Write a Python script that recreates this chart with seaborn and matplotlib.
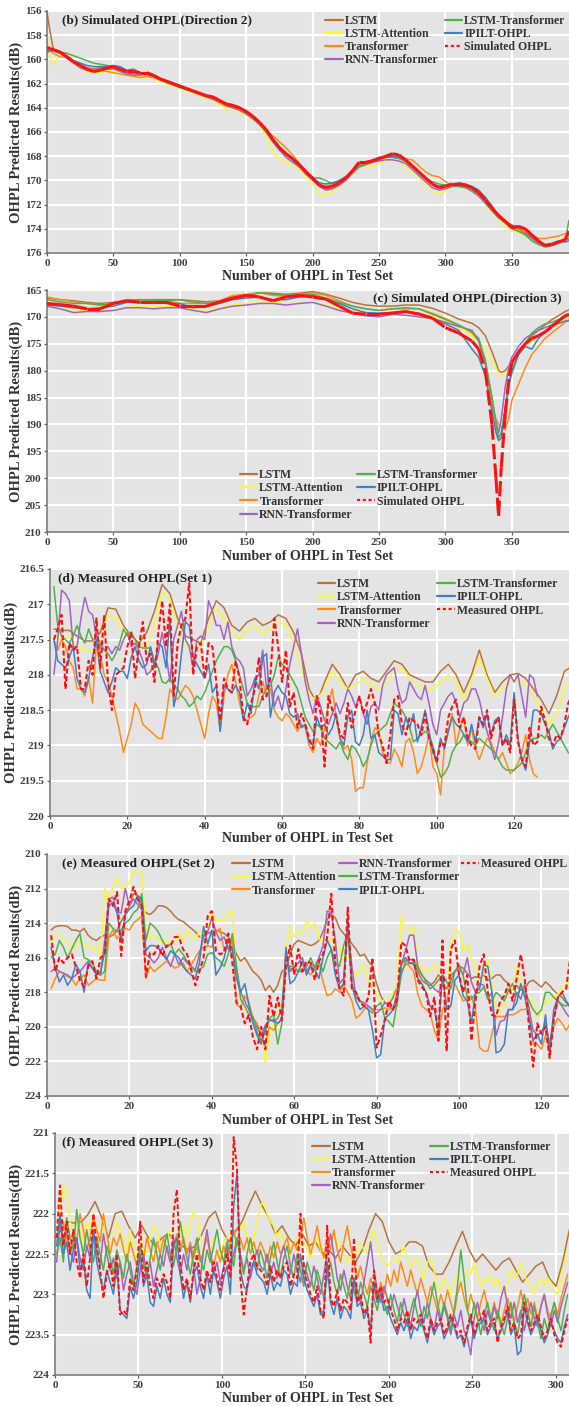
import numpy as np
import matplotlib
matplotlib.use("Agg")
import matplotlib.pyplot as plt
from matplotlib.collections import LineCollection
from matplotlib.lines import Line2D
from matplotlib.ticker import MultipleLocator, FuncFormatter
from matplotlib.font_manager import FontProperties
import seaborn as sns

# ---------------------------------------------------------------------------
# (b) Simulated OHPL, direction 2 -- sample index grid and series
# ---------------------------------------------------------------------------
b_x = np.concatenate(([0, 2], np.arange(5, 391, 5), [393]))
b_sim = [159.0, 159.1, 159.2, 159.4, 159.8, 160.2, 160.5, 160.8, 161.0, 160.9,
         160.7, 160.6, 160.8, 161.0, 161.0, 161.1, 161.1, 161.3, 161.6, 161.8,
         162.0, 162.2, 162.4, 162.6, 162.8, 163.0, 163.1, 163.4, 163.7, 163.8,
         164.0, 164.3, 164.7, 165.2, 165.8, 166.6, 167.3, 167.8, 168.2, 168.7,
         169.3, 169.8, 170.4, 170.6, 170.5, 170.2, 169.8, 169.2, 168.5, 168.5,
         168.4, 168.2, 168.0, 167.8, 167.9, 168.3, 168.8, 169.3, 169.8, 170.3,
         170.6, 170.5, 170.3, 170.3, 170.4, 170.6, 171.0, 171.6, 172.3, 172.9,
         173.4, 173.9, 173.8, 174.0, 174.5, 175.0, 175.4, 175.3, 175.1, 174.9,
         174.2]
b_lstm = [156.1, 157.5, 159.3, 159.4, 159.7, 160.1, 160.4, 160.7, 160.8, 160.7,
          160.6, 160.7, 160.9, 161.1, 161.2, 161.2, 161.2, 161.4, 161.6, 161.8,
          162.0, 162.3, 162.5, 162.7, 162.8, 163.0, 163.2, 163.5, 163.7, 163.9,
          164.1, 164.4, 164.8, 165.3, 166.0, 166.8, 167.4, 167.9, 168.3, 168.8,
          169.4, 169.9, 170.4, 170.5, 170.4, 170.1, 169.7, 169.2, 168.7, 168.6,
          168.4, 168.3, 168.1, 168.0, 168.1, 168.4, 168.9, 169.4, 169.9, 170.3,
          170.5, 170.4, 170.3, 170.4, 170.5, 170.8, 171.2, 171.8, 172.4, 173.0,
          173.5, 173.9, 174.0, 174.3, 174.7, 175.1, 175.3, 175.3, 175.1, 175.0,
          174.8]
b_lstm_att = [158.3, 159.6, 160.4, 159.6, 159.9, 160.3, 160.7, 161.0, 161.1, 161.1,
              160.9, 161.0, 161.2, 161.3, 161.4, 161.5, 161.4, 161.6, 161.8, 162.0,
              162.2, 162.4, 162.6, 162.8, 163.0, 163.2, 163.4, 163.7, 164.2, 164.1,
              164.3, 164.6, 165.0, 165.5, 166.3, 167.7, 168.2, 168.4, 168.7, 169.1,
              169.7, 170.3, 171.1, 171.2, 170.9, 170.5, 170.0, 169.5, 168.9, 168.8,
              168.9, 168.6, 168.4, 168.3, 168.4, 168.8, 169.4, 169.8, 170.3, 170.9,
              171.1, 170.9, 170.5, 170.5, 170.6, 170.9, 171.3, 171.9, 172.6, 173.2,
              173.7, 174.2, 174.3, 174.6, 174.9, 175.2, 175.3, 175.2, 175.0, 174.8,
              174.6]
b_transformer = [159.4, 159.3, 159.5, 159.8, 159.8, 160.2, 160.5, 160.7, 160.9, 160.9,
                 161.0, 161.1, 161.2, 161.3, 161.4, 161.5, 161.4, 161.5, 161.7, 161.9,
                 162.1, 162.3, 162.5, 162.7, 162.9, 163.1, 163.3, 163.6, 163.9, 164.0,
                 164.2, 164.5, 164.9, 165.3, 165.9, 166.3, 166.8, 167.3, 167.9, 168.6,
                 169.2, 169.9, 170.3, 170.5, 170.3, 170.1, 169.7, 169.2, 168.7, 168.6,
                 168.5, 168.3, 168.1, 168.0, 168.1, 168.2, 168.3, 168.8, 169.3, 169.6,
                 169.7, 170.1, 170.4, 170.4, 170.5, 170.7, 171.1, 171.7, 172.3, 172.8,
                 173.3, 173.7, 173.9, 174.2, 174.5, 174.8, 174.8, 174.7, 174.6, 174.4,
                 174.5]
b_rnn_tf = [159.4, 159.3, 159.3, 159.5, 159.9, 160.3, 160.7, 160.9, 161.0, 160.9,
            160.8, 160.8, 161.0, 161.2, 161.3, 161.3, 161.2, 161.4, 161.7, 161.9,
            162.1, 162.3, 162.5, 162.7, 162.9, 163.1, 163.3, 163.5, 163.8, 164.0,
            164.2, 164.5, 164.9, 165.4, 166.0, 166.8, 167.5, 168.1, 168.5, 168.9,
            169.5, 170.0, 170.5, 170.8, 170.7, 170.4, 170.0, 169.4, 168.9, 168.7,
            168.5, 168.4, 168.3, 168.3, 168.4, 168.6, 169.1, 169.6, 170.1, 170.6,
            170.8, 170.7, 170.5, 170.5, 170.6, 170.9, 171.3, 171.9, 172.5, 173.1,
            173.5, 174.0, 174.2, 174.4, 174.8, 175.2, 175.4, 175.3, 175.1, 174.9,
            174.8]
b_lstm_tf = [159.5, 159.2, 159.3, 159.4, 159.5, 159.7, 159.9, 160.1, 160.3, 160.4,
             160.5, 160.6, 160.8, 161.0, 161.0, 161.1, 161.1, 161.3, 161.6, 161.8,
             162.0, 162.2, 162.4, 162.6, 162.8, 163.0, 163.2, 163.4, 163.7, 163.9,
             164.1, 164.4, 164.8, 165.3, 166.0, 166.8, 167.4, 167.9, 168.3, 168.8,
             169.3, 169.8, 169.8, 170.0, 170.3, 170.2, 169.8, 169.2, 168.8, 168.6,
             168.4, 168.2, 168.1, 168.1, 168.2, 168.4, 168.9, 169.3, 169.8, 170.1,
             170.3, 170.4, 170.4, 170.5, 170.5, 170.8, 171.2, 171.8, 172.5, 173.0,
             173.5, 173.9, 174.2, 174.5, 175.0, 175.3, 175.5, 175.4, 175.2, 175.0,
             173.3]
b_ipilt = [159.3, 159.1, 159.2, 159.4, 159.8, 160.1, 160.3, 160.5, 160.6, 160.6,
           160.6, 160.5, 160.6, 160.9, 160.8, 161.1, 161.2, 161.4, 161.6, 161.8,
           162.1, 162.3, 162.5, 162.6, 162.8, 163.0, 163.1, 163.4, 163.6, 163.8,
           164.0, 164.3, 164.8, 165.3, 165.9, 166.6, 167.3, 167.8, 168.3, 168.8,
           169.3, 169.8, 170.2, 170.3, 170.2, 170.0, 169.7, 169.2, 168.6, 168.5,
           168.3, 168.1, 168.1, 168.0, 168.1, 168.4, 168.8, 169.3, 169.8, 170.3,
           170.5, 170.4, 170.3, 170.2, 170.3, 170.5, 170.8, 171.4, 172.1, 172.9,
           173.4, 173.7, 173.9, 174.0, 174.6, 175.1, 175.3, 175.2, 175.0, 175.1,
           175.0]

# ---------------------------------------------------------------------------
# (c) Simulated OHPL, direction 3
# ---------------------------------------------------------------------------
c_x = np.concatenate((np.arange(0, 321, 10),
                      [325, 330, 335, 338, 340, 342, 345, 348, 350, 355,
                       360, 365, 370, 375, 380, 385, 390, 393]))
c_sim = [167.5, 167.7, 168.0, 168.5, 168.5, 167.5, 167.0, 167.3, 167.3, 167.3,
         168.0, 168.0, 168.0, 167.2, 166.5, 166.0, 166.3, 167.0, 166.3, 166.0,
         166.3, 166.7, 168.0, 169.3, 169.5, 169.5, 169.3, 169.0, 169.5, 170.2,
         172.0, 173.0, 174.5,
         176.0, 180.0, 190.0, 200.0, 207.0, 198.0, 188.0, 181.0, 178.5, 176.5,
         175.0, 174.0, 173.5, 172.8, 171.8, 170.8, 169.8, 169.5]
c_lstm = [166.5, 166.8, 167.0, 167.3, 167.5, 167.3, 167.0, 166.8, 166.8, 166.8,
          166.8, 167.0, 167.2, 167.0, 166.3, 166.0, 165.5, 165.6, 165.8, 165.6,
          165.3, 165.8, 166.5, 167.3, 167.8, 168.0, 168.0, 167.8, 167.8, 168.4,
          169.3, 170.4, 171.2,
          172.0, 173.5, 176.5, 178.5, 180.0, 180.3, 180.0, 179.0, 178.3, 176.5,
          175.0, 173.5, 172.5, 171.5, 170.5, 169.8, 169.0, 168.7]
c_lstm_att = [168.0, 168.5, 168.8, 168.8, 168.8, 168.8, 168.3, 168.0, 168.0, 168.0,
              168.3, 168.5, 168.8, 168.3, 167.8, 167.5, 167.3, 167.3, 167.5, 167.5,
              167.3, 167.8, 168.5, 169.0, 169.3, 169.5, 169.3, 169.3, 169.3, 170.0,
              170.8, 172.0, 173.5,
              174.5, 176.0, 178.0, 179.5, 180.5, 181.0, 180.5, 179.5, 178.5, 177.0,
              175.5, 174.5, 173.5, 172.8, 172.0, 171.2, 170.5, 170.2]
c_transformer = [166.3, 166.8, 167.2, 167.5, 167.8, 167.5, 166.8, 166.8, 167.0, 167.0,
                 167.5, 167.5, 167.5, 167.0, 166.0, 165.8, 165.5, 166.0, 166.2, 166.0,
                 165.5, 166.0, 167.0, 168.0, 168.5, 168.8, 168.5, 168.5, 168.5, 169.3,
                 170.3, 171.5, 173.0,
                 174.5, 179.0, 186.5, 189.0, 190.0, 190.5, 191.0, 188.5, 185.5, 182.5,
                 179.5, 177.0, 175.5, 174.0, 173.0, 172.0, 171.0, 170.5]
c_rnn_tf = [168.0, 168.5, 169.2, 169.0, 169.0, 168.8, 168.3, 168.3, 168.5, 168.3,
            168.3, 168.8, 169.2, 168.5, 168.0, 167.8, 167.5, 167.5, 167.8, 167.5,
            167.3, 168.0, 168.8, 169.3, 169.8, 170.0, 169.5, 169.7, 170.0, 170.3,
            171.0, 171.8, 172.5,
            174.5, 178.5, 185.0, 189.5, 191.5, 189.0, 183.0, 179.0, 177.5, 175.5,
            174.0, 173.2, 172.5, 172.0, 171.5, 170.8, 170.0, 169.8]
c_lstm_tf = [166.8, 167.2, 167.5, 167.5, 167.8, 167.5, 167.0, 166.8, 167.0, 167.0,
             166.8, 167.3, 167.5, 167.3, 166.5, 166.2, 165.5, 165.8, 166.0, 165.8,
             165.8, 166.5, 167.3, 168.0, 168.5, 168.8, 168.5, 168.3, 168.5, 169.5,
             170.5, 171.5, 172.8,
             174.0, 178.0, 185.0, 190.0, 192.5, 191.5, 187.0, 182.5, 180.5, 177.0,
             175.0, 173.0, 172.0, 171.3, 171.0, 170.5, 170.0, 169.8]
c_ipilt = [167.8, 168.0, 168.3, 168.5, 168.3, 168.0, 167.3, 167.3, 167.3, 167.5,
           167.5, 168.3, 168.0, 167.5, 166.8, 166.5, 166.3, 166.8, 166.8, 166.3,
           166.0, 166.8, 167.5, 168.5, 169.2, 169.3, 169.2, 169.0, 169.3, 170.3,
           171.3, 172.5, 176.0,
           177.5, 181.0, 187.5, 191.5, 193.0, 192.5, 187.0, 182.0, 180.0, 177.0,
           175.5, 176.0, 174.0, 172.8, 171.8, 171.2, 170.8, 170.7]

# ---------------------------------------------------------------------------
# (d) Measured OHPL, set 1  (samples start at 1; LSTM curves every 2nd sample)
# ---------------------------------------------------------------------------
d_meas = [217.5, 217.35, 217.15, 218.2, 217.55, 217.65, 217.6, 218.2, 218.2, 217.8,
          218.0, 217.2, 217.9, 217.15, 218.1, 218.5, 218.0, 217.95, 217.9, 217.6,
          217.4, 218.05, 217.6, 217.25, 217.8, 217.7, 218.1, 217.4, 216.95, 217.6,
          217.0, 218.3, 217.55, 217.3, 217.2, 216.7, 218.0, 217.6, 217.55, 218.05,
          217.55, 217.6, 218.1, 218.65, 218.05, 218.2, 218.25, 217.8, 218.05, 218.6,
          218.7, 218.4, 218.2, 217.75, 218.35, 218.3, 218.0, 217.2, 217.6, 218.1,
          217.65, 218.45, 218.25, 218.75, 218.55, 218.7, 218.9, 219.05, 218.3, 218.55,
          219.3, 218.3, 218.5, 218.6, 218.85, 218.9, 218.4, 218.75, 218.5, 218.3,
          218.55, 218.4, 218.2, 218.4, 218.85, 219.0, 219.25, 218.85, 218.35, 218.3,
          218.7, 218.85, 218.6, 218.65, 218.7, 218.85, 218.55, 218.9, 219.05, 219.25,
          218.95, 219.0, 218.6, 218.45, 218.35, 218.75, 218.6, 218.9, 219.0, 219.05,
          218.6, 218.7, 218.5, 218.9, 218.7, 218.6, 219.0, 218.9, 219.1, 218.35,
          218.95, 219.2, 219.3, 218.75, 219.0, 218.95, 218.45, 218.65, 218.9, 219.0,
          218.85, 218.9, 218.7, 218.4, 218.3, 218.1]
d_ipilt = [217.5, 217.8, 217.85, 217.9, 217.75, 217.6, 218.05, 218.2, 218.25, 218.05,
           217.75, 217.5, 217.95, 218.1, 218.25, 218.1, 217.9, 217.95, 217.95, 218.05,
           217.75, 217.6, 217.8, 217.9, 217.85, 217.6, 217.9, 217.55, 217.6, 217.9,
           217.2, 218.45, 218.2, 217.7, 217.25, 217.3, 217.75, 217.85, 217.95, 218.05,
           217.85, 218.25, 218.15, 218.8, 218.15, 218.2, 218.25, 218.15, 218.25, 218.65,
           218.4, 218.55, 218.05, 218.2, 217.75, 217.7, 218.6, 218.25, 218.15, 218.25,
           218.3, 218.55, 218.6, 218.55, 218.75, 218.7, 218.95, 219.0, 218.6, 218.75,
           218.7, 218.85, 218.75, 218.55, 218.9, 219.0, 218.6, 218.5, 218.95, 219.0,
           218.85, 218.5, 218.9, 218.85, 219.1, 219.15, 219.2, 219.2, 218.5, 218.55,
           218.85, 218.6, 218.75, 218.55, 218.95, 218.75, 218.5, 218.8, 219.1, 219.2,
           218.9, 219.05, 218.8, 218.6, 218.7, 218.75, 218.85, 218.95, 218.7, 218.95,
           218.6, 218.75, 218.55, 218.85, 218.65, 218.6, 219.0, 218.85, 219.0, 218.25,
           218.9, 219.2, 219.35, 218.95, 218.5, 218.5, 218.55, 218.7, 218.8, 219.05,
           218.95, 218.9, 218.75, 218.6, 218.5, 218.4]
d_lstm_tf = [216.75, 217.3, 217.45, 217.5, 217.55, 217.45, 217.3, 217.45, 217.55, 217.35,
             217.5, 217.5, 217.6, 217.65, 217.7, 217.8, 217.7, 217.55, 217.35, 217.45,
             217.4, 217.5, 217.6, 217.62, 217.62, 217.62, 217.8, 217.9, 218.1, 218.12,
             218.05, 218.15, 218.2, 218.3, 218.35, 218.45, 218.4, 218.3, 218.35, 218.25,
             218.1, 217.95, 217.8, 217.7, 217.6, 217.6, 217.65, 217.8, 218.0, 218.2,
             218.4, 218.45, 218.45, 218.45, 218.3, 218.2, 218.15, 218.0, 217.75, 217.85,
             217.9, 218.0, 218.1, 218.2, 218.4, 218.6, 218.7, 218.8, 218.7, 218.75,
             218.9, 218.95, 219.0, 219.05, 218.95, 219.1, 219.2, 219.0, 219.05, 219.15,
             219.3, 219.2, 219.0, 218.85, 218.8, 218.75, 218.7, 218.55, 218.4, 218.45,
             218.5, 218.6, 218.75, 218.95, 218.9, 218.85, 218.8, 218.85, 219.0, 219.25,
             219.45, 219.4, 219.3, 219.1, 219.0, 218.95, 218.85, 218.9, 218.95, 219.0,
             218.9, 218.95, 219.0, 219.05, 219.1, 219.2, 219.3, 219.35, 219.35, 219.35,
             219.3, 219.25, 219.1, 218.95, 218.9, 218.9, 218.85, 218.9, 218.8, 218.7,
             218.8, 218.9, 219.0, 219.1, 219.15, 219.1]
d_transformer = [217.5, 217.65, 217.5, 217.6, 217.8, 217.9, 218.2, 218.2, 218.3, 218.05,
                 218.4, 217.55, 217.7, 218.0, 218.1, 218.3, 218.55, 218.8, 219.1, 218.9,
                 218.7, 218.4, 218.5, 218.7, 218.75, 218.8, 218.85, 218.9, 218.9, 218.6,
                 218.2, 218.3, 218.35, 218.25, 218.15, 218.2, 218.3, 218.5, 218.7, 218.9,
                 218.55, 218.3, 218.4, 218.8, 218.3, 218.0, 217.85, 218.1, 218.4, 218.6,
                 218.65, 218.6, 218.55, 218.3, 218.1, 218.3, 218.2, 218.5, 218.6, 218.65,
                 218.55, 218.6, 218.7, 218.8, 218.7, 218.75, 219.0, 219.1, 218.9, 219.0,
                 218.75, 218.4, 218.2, 218.6, 218.9, 219.05, 219.0, 219.2, 219.65, 219.6,
                 219.6, 219.25, 218.95, 218.75, 218.8, 219.1, 219.25, 219.25, 219.05, 219.15,
                 219.3, 218.95, 218.9, 219.1, 219.4, 219.3, 219.1, 218.85, 219.3, 219.4,
                 219.7, 219.0, 218.8, 218.55, 219.0, 218.75, 218.6, 219.0, 218.75, 219.05,
                 219.2, 219.05, 218.9, 218.95, 219.1, 219.2, 219.1, 219.25, 219.4, 219.35,
                 219.25, 219.1, 218.85, 219.2, 219.4, 219.45]
d_rnn_tf = [218.0, 217.5, 216.8, 216.85, 216.95, 217.6, 217.6, 217.2, 216.9, 217.1,
            217.15, 217.45, 217.55, 217.65, 217.6, 217.7, 217.6, 217.65, 217.5, 217.4,
            217.6, 217.55, 217.65, 217.8, 218.0, 217.95, 217.85, 217.7, 217.4, 217.7,
            218.1, 217.5, 217.3, 217.1, 217.5, 217.6, 217.9, 217.5, 217.45, 217.5,
            216.95, 217.1, 217.3, 217.3, 217.5, 217.25, 217.6, 217.75, 217.8, 217.9,
            218.3, 218.2, 218.05, 218.0, 217.65, 218.2, 218.05, 218.45, 218.3, 218.5,
            218.2, 217.85, 217.6, 217.35, 217.7, 218.1, 218.35, 218.55, 218.3, 218.45,
            218.65, 218.7, 218.55, 218.4, 218.55, 218.4, 218.2, 218.3, 218.45, 218.3,
            218.55, 218.7, 218.45, 218.4, 218.5, 218.15, 218.0, 217.95, 217.9, 218.2,
            218.4, 218.35, 218.1, 218.2, 218.3, 218.35, 218.15, 218.4, 218.7, 218.85,
            218.5, 218.4, 218.3, 218.25, 218.4, 218.6, 218.4, 218.35, 218.2, 218.2,
            218.35, 218.6, 218.8, 219.0, 219.2, 218.95, 218.6, 218.2, 218.0, 218.1,
            218.0, 218.3, 218.6, 218.0, 218.05, 218.3]
d_lstm = [217.35, 217.37, 217.37, 217.45, 217.52, 217.52, 217.4, 217.05, 217.07, 217.3,
          217.45, 217.55, 217.4, 217.1, 216.72, 216.85, 217.2, 217.45, 217.5, 217.55,
          217.2, 216.95, 217.05, 217.3, 217.38, 217.25, 217.2, 217.3, 217.25, 217.15,
          217.2, 217.4, 217.7, 218.2, 218.4, 218.1, 217.85, 218.0, 218.2, 218.0,
          217.95, 218.05, 218.1, 217.95, 217.8, 217.85, 218.0, 218.05, 218.1, 218.1,
          217.95, 217.85, 218.0, 218.25, 218.0, 217.65, 218.0, 218.25, 218.1, 218.0,
          217.98, 218.05, 218.2, 218.35, 218.55, 218.3, 217.95, 217.88, 218.2]
d_lstm_att = [217.45, 217.5, 217.45, 217.6, 217.65, 217.65, 217.55, 217.15, 217.2, 217.4,
              217.5, 217.6, 217.6, 217.3, 216.82, 216.95, 217.3, 217.6, 217.65, 217.6,
              217.3, 217.05, 217.2, 217.4, 217.5, 217.35, 217.3, 217.42, 217.35, 217.25,
              217.3, 217.55, 217.9, 218.3, 218.35, 218.2, 217.95, 218.1, 218.2, 218.15,
              218.05, 218.15, 218.2, 218.1, 217.95, 217.9, 218.05, 218.15, 218.2, 218.2,
              218.1, 218.0, 218.1, 218.35, 218.1, 217.75, 218.05, 218.3, 218.2, 218.1,
              218.08, 218.15, 218.3, 218.5, 218.7, 218.55, 218.2, 218.05, 218.2]

# ---------------------------------------------------------------------------
# (e) Measured OHPL, set 2  (samples 1..127)
# ---------------------------------------------------------------------------
e_meas = [214.7, 216.8, 216.0, 216.3, 216.0, 215.8, 216.5, 217.3, 217.7, 216.5,
          216.2, 217.2, 216.0, 215.8, 212.6, 213.0, 212.2, 215.9, 213.3, 212.7,
          211.9, 212.6, 213.0, 217.1, 215.7, 215.8, 215.3, 215.9, 215.3, 215.3,
          214.8, 214.8, 215.5, 215.8, 216.7, 217.6, 216.8, 216.0, 213.6, 213.3,
          215.6, 215.8, 215.7, 214.6, 216.3, 218.6, 218.8, 219.8, 219.3, 220.6,
          221.3, 220.0, 221.3, 218.2, 219.4, 218.3, 219.6, 216.5, 215.3, 217.0,
          215.5, 216.8, 216.2, 216.3, 217.3, 216.2, 215.8, 214.8, 212.3, 216.5,
          217.8, 218.2, 213.1, 217.8, 218.0, 218.6, 218.8, 218.3, 216.0, 221.2,
          220.5, 219.6, 218.5, 219.0, 218.3, 215.1, 215.3, 216.2, 216.1, 217.3,
          217.7, 218.0, 219.4, 218.3, 220.8, 215.0, 221.4, 215.5, 215.0, 217.0,
          218.0, 217.0, 220.8, 218.5, 216.5, 215.8, 218.0, 219.3, 219.4, 218.5,
          218.2, 217.5, 218.5, 217.2, 215.8, 217.3, 220.0, 222.3, 219.8, 220.4,
          220.0, 221.8, 219.6, 218.3, 218.0, 217.8, 216.0]
e_ipilt = [215.4, 216.6, 217.4, 217.0, 217.6, 217.2, 216.4, 216.8, 218.0, 216.3,
           216.6, 217.0, 216.8, 215.7, 213.0, 212.8, 213.4, 215.0, 213.5, 213.2,
           213.0, 212.4, 212.6, 215.6, 215.3, 215.3, 215.4, 215.8, 216.1, 215.6,
           215.8, 216.0, 216.5, 216.8, 217.0, 217.2, 216.3, 214.2, 215.2, 214.4,
           217.0, 216.6, 216.0, 215.0, 215.5, 217.2, 218.0, 217.5, 218.7, 219.8,
           220.5, 221.0, 220.0, 219.6, 219.6, 219.8, 219.6, 215.4, 217.5, 217.3,
           216.8, 216.2, 217.0, 216.5, 216.7, 217.2, 216.0, 215.0, 215.5, 217.0,
           217.8, 217.5, 213.7, 217.6, 218.5, 219.0, 218.8, 219.0, 220.2, 221.8,
           221.6, 219.5, 219.3, 219.0, 218.5, 216.4, 216.0, 216.3, 216.3, 217.2,
           217.5, 218.0, 218.8, 219.0, 220.2, 217.0, 219.0, 218.8, 217.3, 217.0,
           218.2, 218.5, 219.8, 218.0, 217.8, 216.4, 216.5, 218.0, 221.5, 221.4,
           221.0, 219.0, 219.0, 218.6, 217.5, 218.3, 219.5, 220.8, 220.4, 221.0,
           219.3, 221.6, 219.0, 218.3, 218.0, 218.5, 218.9]
e_rnn_tf = [216.8, 216.6, 216.8, 216.9, 217.0, 217.2, 217.0, 216.8, 216.5, 216.2,
            216.6, 216.9, 217.0, 215.0, 212.6, 212.5, 213.4, 213.4, 212.0, 213.0,
            212.6, 212.9, 213.2, 215.8, 216.0, 216.3, 216.0, 215.4, 216.0, 216.5,
            215.8, 216.4, 216.0, 216.3, 216.5, 216.7, 215.8, 214.8, 214.5, 213.7,
            214.5, 215.0, 214.8, 215.5, 215.8, 216.6, 218.0, 218.5, 219.0, 219.5,
            220.0, 220.5, 219.9, 219.6, 219.7, 219.5, 219.0, 215.7, 216.8, 216.5,
            216.3, 216.0, 216.8, 216.4, 216.5, 216.0, 215.3, 213.3, 213.4, 215.0,
            217.5, 217.2, 214.4, 216.5, 218.3, 218.5, 218.6, 218.8, 219.0, 219.2,
            219.0, 218.6, 218.8, 219.0, 218.0, 216.4, 215.6, 214.7, 214.7, 216.5,
            217.0, 217.3, 217.5, 217.8, 218.0, 217.6, 217.8, 217.3, 216.8, 216.6,
            217.0, 216.0, 217.4, 218.0, 217.5, 217.6, 218.4, 218.0, 220.5, 219.7,
            219.6, 219.0, 219.0, 218.0, 218.4, 217.5, 219.0, 220.2, 220.5, 220.3,
            219.8, 221.0, 219.5, 218.5, 218.8, 219.2, 219.5]
e_lstm_tf = [216.0, 215.8, 215.0, 215.4, 216.0, 215.5, 215.0, 214.6, 216.0, 216.1,
             216.3, 216.8, 217.0, 216.8, 214.0, 214.3, 214.5, 214.4, 214.0, 213.8,
             213.4, 213.2, 212.3, 215.0, 214.0, 214.2, 214.5, 215.0, 215.4, 215.2,
             215.8, 215.5, 215.8, 216.2, 216.5, 216.8, 216.7, 216.5, 215.8, 215.7,
             216.0, 216.2, 216.5, 215.8, 214.6, 216.5, 218.4, 218.8, 219.3, 219.4,
             220.3, 220.8, 220.3, 219.5, 219.3, 221.0, 219.8, 216.4, 216.5, 216.5,
             216.8, 216.8, 216.5, 216.0, 216.6, 216.2, 216.8, 216.0, 215.5, 216.3,
             216.5, 215.3, 214.5, 217.6, 218.0, 218.5, 218.8, 219.0, 219.2, 218.8,
             218.6, 219.5, 219.7, 220.0, 218.5, 217.0, 216.2, 216.1, 216.1, 216.6,
             217.0, 217.4, 217.8, 217.6, 217.3, 217.0, 217.4, 217.8, 216.8, 216.4,
             217.0, 218.3, 218.4, 218.1, 218.0, 217.7, 218.4, 218.5, 218.0, 218.2,
             218.5, 217.9, 217.5, 218.2, 217.8, 218.0, 218.5, 219.0, 219.3, 219.0,
             218.0, 218.0, 218.3, 218.5, 218.7, 218.8, 218.6]
e_transformer = [217.8, 217.2, 216.8, 216.9, 217.1, 217.2, 217.6, 217.2, 217.0, 217.6,
                 217.4, 217.2, 217.3, 217.3, 214.8, 214.4, 214.9, 214.6, 214.3, 214.4,
                 214.0, 213.8, 213.6, 217.2, 216.5, 216.8, 216.6, 216.4, 216.2, 216.4,
                 216.6, 216.5, 216.3, 216.8, 216.4, 216.0, 215.6, 215.4, 215.3, 215.4,
                 214.5, 214.3, 215.6, 215.4, 215.0, 218.7, 218.9, 218.2, 218.6, 219.5,
                 219.8, 220.5, 221.0, 220.0, 220.2, 219.8, 219.5, 216.4, 216.6, 216.7,
                 216.8, 216.6, 216.7, 217.0, 216.6, 216.3, 217.4, 218.2, 218.1, 217.8,
                 218.0, 217.6, 218.0, 218.5, 219.5, 219.3, 219.0, 218.8, 219.0, 219.0,
                 219.0, 218.9, 219.0, 218.9, 218.8, 216.2, 216.2, 216.5, 216.8, 218.1,
                 218.8, 219.0, 219.2, 220.2, 220.8, 219.0, 218.6, 217.2, 217.5, 218.0,
                 218.5, 218.4, 218.2, 219.0, 221.2, 221.4, 221.4, 220.4, 219.4, 219.4,
                 219.4, 219.3, 219.3, 219.2, 219.0, 219.0, 218.8, 221.0, 221.0, 221.3,
                 220.5, 221.3, 220.0, 219.5, 219.8, 220.2, 219.8]
e_lstm = [214.4, 214.2, 214.15, 214.15, 214.2, 214.4, 214.4, 214.5, 214.3, 214.7,
          214.9, 215.0, 214.8, 214.7, 214.8, 214.7, 214.4, 213.9, 213.5, 213.0,
          212.3, 212.4, 213.0, 213.4, 213.5, 213.3, 213.0, 213.0, 213.1, 213.3,
          213.6, 213.8, 213.9, 214.1, 214.3, 214.5, 214.8, 214.7, 214.6, 214.5,
          214.4, 214.5, 214.6, 214.8, 215.2, 215.8, 216.2, 216.0, 216.4, 216.8,
          217.0, 217.3, 217.9, 217.6, 218.0, 217.6, 216.8, 216.6, 215.8, 215.2,
          215.0, 215.1, 215.2, 215.3, 215.2, 215.0, 214.5, 213.8, 213.5, 213.7,
          214.3, 214.6, 214.9, 215.2, 215.5, 215.9, 215.8, 216.2, 216.5, 217.5,
          218.2, 218.6, 218.7, 218.3, 217.6, 216.8, 216.4, 216.3, 216.4, 216.8,
          217.3, 217.5, 217.6, 217.4, 217.0, 217.2, 217.3, 217.0, 216.8, 216.5,
          216.6, 216.9, 217.2, 217.1, 217.2, 217.0, 217.3, 217.2, 217.0, 217.0,
          217.3, 217.5, 217.8, 217.6, 217.9, 217.8, 217.4, 217.3, 217.5, 217.7,
          217.4, 217.6, 217.9, 218.1, 218.3, 218.6, 218.8]
e_lstm_att = [215.1, 214.6, 214.7, 214.9, 215.0, 215.6, 215.3, 214.9, 215.2, 215.3,
              215.5, 215.3, 215.9, 212.0, 212.9, 211.8, 211.4, 212.0, 212.0, 211.6,
              211.0, 211.1, 211.1, 214.2, 214.9, 214.7, 214.9, 215.1, 215.0, 215.2,
              215.1, 214.6, 215.0, 214.4, 214.8, 214.9, 214.5, 215.2, 214.3, 213.4,
              213.9, 213.8, 213.9, 213.4, 213.3, 216.8, 218.0, 219.0, 219.2, 219.5,
              219.8, 220.2, 222.1, 220.4, 219.8, 219.4, 218.6, 215.5, 214.2, 214.8,
              214.4, 214.6, 213.8, 214.3, 214.0, 214.8, 215.4, 215.2, 214.8, 215.6,
              215.3, 216.3, 215.8, 216.5, 217.0, 216.8, 216.4, 217.4, 217.6, 218.2,
              218.6, 218.4, 218.4, 218.0, 217.6, 213.6, 214.3, 214.5, 214.2, 216.3,
              216.8, 216.6, 216.8, 216.4, 216.6, 217.4, 217.9, 215.4, 214.4, 214.5,
              215.6, 215.2, 216.1, 216.4, 217.5, 216.8, 216.2, 217.6, 219.0, 219.0,
              218.8, 217.5, 217.8, 216.4, 217.3, 217.9, 218.4, 218.6, 219.5, 219.2,
              218.3, 218.5, 218.3, 218.1, 217.7, 217.6, 217.2]

# ---------------------------------------------------------------------------
# (f) Measured OHPL, set 3  (every 2nd sample from 1; LSTM every 4th from 0)
# ---------------------------------------------------------------------------
f_meas = [222.3, 221.65, 222.4, 222.1, 222.5, 222.2, 222.6, 222.8, 222.5, 222.9,
          222.55, 222.0, 222.4, 222.7, 223.05, 222.75, 222.6, 222.9, 222.5, 223.25,
          223.2, 223.25, 222.8, 222.95, 222.7, 222.1, 222.85, 222.6, 222.9, 223.05,
          222.8, 222.9, 222.75, 222.85, 223.05, 222.0, 221.7, 222.6, 222.95, 222.8,
          223.05, 222.7, 222.5, 222.8, 222.95, 222.7, 222.85, 222.6, 222.8, 222.95,
          222.7, 222.5, 222.8, 221.05, 221.45, 222.8, 223.25, 222.9, 222.6, 222.5,
          222.65, 222.7, 222.75, 222.9, 222.65, 222.85, 222.7, 222.8, 222.65, 222.6,
          222.9, 222.75, 222.8, 222.0, 222.7, 222.85, 223.0, 223.1, 222.9, 223.2,
          223.3, 222.15, 223.05, 223.15, 222.95, 223.2, 223.05, 223.1, 223.2, 222.3,
          223.1, 223.0, 223.25, 223.15, 223.6, 222.7, 223.05, 222.9, 223.1, 223.05,
          223.2, 223.3, 223.45, 223.3, 223.35, 223.2, 223.45, 223.3, 223.35, 223.25,
          223.4, 223.55, 223.3, 223.45, 223.35, 223.3, 223.5, 223.4, 223.25, 223.35,
          223.5, 223.45, 223.6, 223.4, 223.25, 223.5, 223.35, 223.3, 223.2, 223.45,
          223.35, 223.3, 223.6, 223.4, 223.3, 223.15, 223.45, 223.35, 223.55, 223.5,
          223.1, 223.3, 223.45, 223.35, 223.25, 223.4, 223.55, 223.45, 223.3, 223.5,
          223.6, 223.65, 223.45, 223.3]
f_ipilt = [222.4, 222.0, 222.5, 222.35, 222.7, 222.45, 222.3, 222.7, 222.55, 222.95,
           223.05, 222.2, 222.6, 222.8, 222.95, 222.7, 222.85, 223.0, 222.6, 223.2,
           223.25, 223.3, 222.9, 223.05, 222.85, 222.5, 222.9, 222.75, 223.1, 223.15,
           222.9, 223.05, 222.8, 223.0, 223.1, 222.4, 222.3, 222.75, 223.05, 222.85,
           223.1, 222.75, 222.65, 222.9, 223.05, 222.75, 223.0, 222.7, 222.85, 223.05,
           222.8, 222.65, 223.0, 221.9, 221.5, 222.7, 222.9, 222.95, 222.7, 222.6,
           222.75, 222.8, 222.85, 223.0, 222.75, 222.95, 222.85, 222.9, 222.7, 222.75,
           223.0, 222.85, 222.9, 222.5, 222.8, 222.95, 223.05, 223.15, 223.0, 223.25,
           223.2, 222.6, 223.1, 223.25, 223.05, 223.3, 223.15, 223.2, 223.3, 222.8,
           223.15, 223.1, 223.3, 223.2, 223.45, 222.85, 223.1, 223.0, 223.2, 223.15,
           223.3, 223.4, 223.5, 223.35, 223.45, 223.3, 223.55, 223.4, 223.45, 223.3,
           223.45, 223.6, 223.35, 223.5, 223.4, 223.35, 223.55, 223.45, 223.3, 223.4,
           223.55, 223.5, 223.65, 223.45, 223.3, 223.55, 223.4, 223.35, 223.3, 223.5,
           223.4, 223.35, 223.55, 223.45, 223.35, 223.2, 223.5, 223.4, 223.75, 223.7,
           223.15, 223.35, 223.5, 223.4, 223.3, 223.45, 223.6, 223.5, 223.35, 223.45,
           223.55, 223.6, 223.4, 223.25]
f_rnn_tf = [222.6, 222.1, 222.35, 222.2, 222.45, 222.6, 222.3, 222.55, 222.7, 222.4,
            222.55, 222.2, 222.45, 222.65, 222.25, 222.5, 222.7, 222.55, 222.8, 222.6,
            222.95, 222.75, 222.6, 222.85, 223.0, 222.7, 222.5, 222.75, 222.6, 222.9,
            222.7, 222.5, 222.65, 222.4, 222.6, 222.3, 222.55, 222.75, 222.5, 222.7,
            222.4, 222.65, 223.0, 222.8, 222.45, 222.2, 222.5, 222.75, 222.6, 222.85,
            222.65, 222.4, 222.7, 222.5, 222.3, 222.5, 222.7, 222.55, 222.8, 222.6,
            222.45, 222.65, 222.7, 222.5, 222.75, 222.6, 222.8, 222.55, 222.4, 222.6,
            222.75, 222.5, 222.7, 222.85, 222.6, 222.75, 222.9, 222.65, 222.8, 223.0,
            222.75, 222.5, 222.25, 222.5, 222.8, 222.95, 222.7, 222.9, 223.05, 222.8,
            222.95, 223.1, 222.85, 222.6, 222.35, 222.7, 222.95, 223.1, 222.9, 223.05,
            223.2, 223.0, 223.15, 223.3, 223.05, 223.25, 223.4, 223.15, 222.95, 223.2,
            223.35, 223.1, 223.3, 223.45, 223.2, 223.35, 223.15, 223.3, 223.5, 223.25,
            223.4, 223.2, 223.45, 223.55, 223.75, 223.3, 223.1, 223.3, 223.45, 223.2,
            223.35, 223.15, 223.3, 223.05, 222.9, 223.15, 223.3, 223.1, 223.35, 223.2,
            223.45, 223.25, 223.1, 223.3, 223.4, 223.15, 223.0, 223.25, 223.4, 223.2,
            223.35, 223.15, 223.0, 222.85]
f_lstm_tf = [222.5, 222.3, 222.6, 222.05, 222.3, 222.45, 221.95, 222.3, 222.5, 222.2,
             222.45, 222.6, 222.3, 222.5, 222.7, 222.4, 222.55, 222.75, 222.45, 222.6,
             222.8, 222.5, 222.7, 222.9, 222.65, 222.4, 222.6, 222.8, 222.55, 222.3,
             222.5, 222.7, 222.45, 222.25, 222.5, 222.65, 222.4, 222.1, 222.35, 222.55,
             222.75, 222.5, 222.3, 222.55, 222.7, 222.45, 222.6, 222.4, 222.2, 222.45,
             222.6, 222.35, 222.5, 222.65, 222.3, 222.55, 222.75, 222.5, 222.3, 222.5,
             222.7, 222.45, 222.6, 222.8, 222.55, 222.35, 222.6, 222.8, 222.55, 222.4,
             222.65, 222.8, 222.5, 222.7, 222.9, 222.6, 222.75, 222.95, 222.7, 222.85,
             223.05, 222.8, 222.6, 222.85, 223.0, 222.75, 222.9, 223.05, 222.8, 222.95,
             223.1, 222.85, 223.0, 223.15, 222.9, 223.05, 223.2, 222.95, 223.1, 223.25,
             223.0, 223.2, 223.35, 223.1, 223.25, 223.4, 223.2, 223.05, 223.25, 223.4,
             223.15, 223.3, 223.05, 222.85, 223.1, 223.3, 223.1, 223.25, 223.45, 223.2,
             222.9, 222.45, 222.8, 223.2, 223.35, 223.1, 223.3, 223.5, 223.25, 223.1,
             223.3, 223.45, 223.2, 223.35, 223.5, 223.3, 223.1, 223.35, 223.5, 223.25,
             223.0, 223.2, 223.4, 223.15, 223.35, 223.55, 223.3, 223.45, 223.25, 223.1,
             223.3, 223.45, 223.2, 223.0]
f_transformer = [222.25, 222.4, 222.1, 222.3, 222.5, 222.2, 222.35, 222.0, 222.2, 222.45,
                 222.3, 222.05, 222.2, 222.35, 222.0, 222.25, 222.5, 222.3, 222.4, 222.25,
                 222.45, 222.6, 222.35, 222.5, 222.65, 222.4, 222.55, 222.3, 222.45, 222.6,
                 222.35, 222.5, 222.3, 222.45, 222.6, 222.4, 222.25, 222.45, 222.3, 222.5,
                 222.35, 222.55, 222.4, 222.6, 222.45, 222.3, 222.5, 222.65, 222.45, 222.6,
                 222.4, 222.55, 222.35, 222.2, 222.4, 222.3, 222.45, 222.3, 222.5, 222.35,
                 222.5, 222.35, 222.45, 222.6, 222.4, 222.55, 222.35, 222.5, 222.4, 222.3,
                 222.5, 222.35, 222.45, 222.3, 222.05, 222.3, 222.5, 222.35, 222.15, 222.4,
                 222.55, 222.3, 222.45, 222.2, 222.45, 222.6, 222.35, 222.15, 222.4, 222.6,
                 222.8, 222.65, 222.85, 223.0, 222.8, 222.95, 223.1, 222.85, 223.0, 222.75,
                 222.9, 222.7, 222.85, 222.6, 222.75, 222.9, 222.7, 222.85, 223.0, 222.8,
                 222.95, 223.1, 222.9, 223.05, 223.2, 223.0, 223.15, 222.95, 223.1, 223.25,
                 223.0, 222.85, 223.05, 223.2, 223.0, 223.15, 223.3, 223.1, 222.95, 223.15,
                 223.3, 223.1, 223.25, 223.4, 223.2, 223.05, 223.2, 223.35, 223.15, 222.95,
                 223.2, 223.05, 223.25, 223.1, 223.3, 223.15, 223.0, 223.2, 223.3, 223.1,
                 223.25, 223.05, 222.9, 222.75]
f_lstm_att = [222.3, 222.0, 221.65, 221.75, 222.1, 222.3, 222.1, 222.2, 222.35, 222.1,
              222.2, 222.0, 222.2, 222.3, 222.05, 222.3, 222.45, 222.3, 222.1, 222.2,
              222.35, 222.5, 222.2, 222.45, 222.55, 222.3, 222.6, 222.45, 222.3, 222.15,
              222.2, 222.4, 222.35, 222.3, 222.2, 222.4, 222.35, 222.3, 222.15, 222.3,
              222.1, 221.98, 222.05, 222.3, 222.4, 222.5, 222.35, 222.3, 222.5, 222.55,
              222.35, 222.3, 222.25, 222.4, 222.3, 222.2, 222.1, 222.3, 222.45, 222.3,
              222.1, 221.9, 221.85, 222.0, 222.1, 222.15, 222.3, 222.2, 222.35, 222.4,
              222.5, 222.35, 222.3, 222.4, 222.35, 222.45, 222.55, 222.4, 222.3, 222.45,
              222.55, 222.4, 222.3, 222.25, 222.35, 222.4, 222.5, 222.6, 222.55, 222.45,
              222.5, 222.35, 222.45, 222.5, 222.3, 222.2, 222.35, 222.5, 222.6, 222.65,
              222.6, 222.55, 222.6, 222.5, 222.4, 222.55, 222.65, 222.6, 222.55, 222.7,
              222.8, 222.6, 222.55, 222.7, 222.9, 222.95, 222.8, 222.9, 223.0, 222.85,
              222.75, 222.9, 222.85, 222.7, 222.75, 222.6, 222.75, 222.9, 222.8, 222.85,
              222.75, 222.9, 222.8, 222.95, 223.0, 222.85, 222.7, 222.8, 222.75, 222.6,
              222.75, 222.85, 222.9, 223.0, 222.85, 222.8, 222.9, 222.8, 222.85, 222.95,
              223.0, 222.8, 222.6, 222.45]
f_lstm = [222.3, 222.2, 222.1, 222.12, 222.1, 222.0, 221.85, 222.05, 222.3, 222.0,
          221.97, 222.15, 222.3, 222.15, 222.3, 222.4, 222.3, 222.25, 222.35, 222.4,
          222.45, 222.4, 222.25, 222.05, 221.97, 222.2, 222.35, 222.22, 222.1, 221.9,
          221.72, 221.9, 222.05, 222.25, 222.15, 222.3, 222.4, 222.25, 222.4, 222.35,
          222.5, 222.45, 222.55, 222.4, 222.5, 222.6, 222.45, 222.2, 222.0, 222.1,
          222.35, 222.5, 222.45, 222.35, 222.35, 222.4, 222.65, 222.75, 222.75, 222.6,
          222.4, 222.22, 222.45, 222.6, 222.5, 222.6, 222.7, 222.6, 222.55, 222.7,
          222.85, 222.75, 222.65, 222.6, 222.8, 222.9, 222.6, 222.2]

# ---------------------------------------------------------------------------
# styling
# ---------------------------------------------------------------------------
sns.set_theme(style="darkgrid", rc={
    "axes.facecolor": "#E4E4E4",
    "grid.color": "white",
    "grid.linewidth": 1.5,
    "axes.edgecolor": "#707070",
})
plt.rcParams["font.family"] = ["Liberation Serif", "DejaVu Serif"]
plt.rcParams["font.weight"] = "bold"

W, H = 569, 1406
fig = plt.figure(figsize=(W / 100, H / 100), dpi=100)
fig.patch.set_facecolor("white")

COL = {
    "lstm": "#B8733D",
    "lstm_att": "#F8F83A",
    "transformer": "#FF8C1A",
    "rnn_tf": "#A463C2",
    "lstm_tf": "#52B04C",
    "ipilt": "#3F7FC2",
    "ref": "#FF1010",
}
NAME = {
    "lstm": "LSTM", "lstm_att": "LSTM-Attention", "transformer": "Transformer",
    "rnn_tf": "RNN-Transformer", "lstm_tf": "LSTM-Transformer", "ipilt": "IPILT-OHPL",
}
TXT = "#333333"
LEG_FONT = FontProperties(family="Liberation Serif", weight="bold", size=8.5)


def make_axes(left_px, top_px, bottom_px):
    return fig.add_axes([left_px / W, 1 - bottom_px / H,
                         1 - left_px / W, (bottom_px - top_px) / H])


def curve(ax, x, y, key, lw=1.1):
    y = np.asarray(y, dtype=float)
    x = np.asarray(x, dtype=float)[:len(y)]
    sns.lineplot(x=x, y=y, ax=ax, color=COL[key], linewidth=lw,
                 estimator=None, sort=False, legend=False)


def measured(ax, x, y, lw=1.5):
    y = np.asarray(y, dtype=float)
    x = np.asarray(x, dtype=float)[:len(y)]
    sns.lineplot(x=x, y=y, ax=ax, color=COL["ref"], linewidth=lw,
                 linestyle=(0, (2.4, 1.3)), estimator=None, sort=False,
                 legend=False, zorder=6)


def simulated(ax, x, y, lw=2.2):
    # dash pattern restarts on every segment, so dense stretches read as solid
    pts = np.column_stack([np.asarray(x, float)[:len(y)], np.asarray(y, float)])
    segs = np.stack([pts[:-1], pts[1:]], axis=1)
    lc = LineCollection(segs, colors=COL["ref"], linewidths=lw,
                        linestyles=[(0, (5.0, 1.4))], capstyle="butt", zorder=6)
    ax.add_collection(lc)


def style_axes(ax, xlim, ylim, xstep, ystep, left_px, top_px, bottom_px,
               xlab_px, ylab_px=16):
    ax.set_xlim(*xlim)
    ax.set_ylim(*ylim)
    ax.xaxis.set_major_locator(MultipleLocator(xstep))
    ax.yaxis.set_major_locator(MultipleLocator(ystep))
    ax.yaxis.set_major_formatter(FuncFormatter(lambda v, p: f"{v:g}"))
    ax.grid(True, color="white", linewidth=1.5)
    ax.set_axisbelow(True)
    for s in ("top", "right"):
        ax.spines[s].set_visible(False)
    for s in ("left", "bottom"):
        ax.spines[s].set_visible(True)
        ax.spines[s].set_color("#707070")
        ax.spines[s].set_linewidth(1.1)
    ax.tick_params(axis="both", which="major", length=2.5, width=0.9,
                   color="#606060", labelsize=8, labelcolor="#404040", pad=1.5,
                   left=True, bottom=True)
    for lab in ax.get_xticklabels() + ax.get_yticklabels():
        lab.set_fontweight("bold")
    ax.set_xlabel("Number of OHPL in Test Set", fontsize=10, fontweight="bold",
                  color=TXT)
    ax.set_ylabel("OHPL Predicted Results(dB)", fontsize=10.5, fontweight="bold",
                  color=TXT)
    h = bottom_px - top_px
    wpx = W - left_px
    ax.xaxis.label.set_va("center")
    ax.yaxis.label.set_va("center")
    ax.xaxis.set_label_coords((308 - left_px) / wpx, -(xlab_px - bottom_px) / h)
    ax.yaxis.set_label_coords((ylab_px - left_px) / wpx, 0.5)


def column_legend(x_px, row1_px, entries):
    handles, labels = [], []
    for key, label in entries:
        if key == "ref":
            handles.append(Line2D([], [], color=COL["ref"], linewidth=1.6,
                                  linestyle=(0, (1.4, 1.2))))
        else:
            handles.append(Line2D([], [], color=COL[key], linewidth=1.6))
        labels.append(label)
    leg = fig.legend(handles, labels, loc="upper left",
                     bbox_to_anchor=(x_px / W, 1 - (row1_px - 6.8) / H),
                     frameon=False, borderpad=0, borderaxespad=0,
                     handlelength=1.5, handletextpad=0.18, labelspacing=0.1,
                     prop=LEG_FONT)
    for t in leg.get_texts():
        t.set_color(TXT)
    leg.set_zorder(20)


def title(x_px, y_px, text):
    fig.text(x_px / W, 1 - y_px / H, text, fontsize=9.5, fontweight="bold",
             color="#222222", ha="left", va="center", zorder=20)


ORDER = ["lstm", "lstm_att", "transformer", "rnn_tf", "lstm_tf", "ipilt"]

# ---- (b) -------------------------------------------------------------------
ax = make_axes(47, 11, 253)
for key, ys in zip(ORDER, [b_lstm, b_lstm_att, b_transformer, b_rnn_tf,
                           b_lstm_tf, b_ipilt]):
    curve(ax, b_x, ys, key)
simulated(ax, b_x, b_sim)
style_axes(ax, (0, 393), (176, 156), 50, 2, 47, 11, 253, 277)
title(62, 20, "(b) Simulated OHPL(Direction 2)")
column_legend(325, 21.7, [(k, NAME[k]) for k in ORDER[:4]])
column_legend(444.5, 21.7, [("lstm_tf", NAME["lstm_tf"]), ("ipilt", NAME["ipilt"]),
                            ("ref", "Simulated OHPL")])

# ---- (c) -------------------------------------------------------------------
ax = make_axes(47, 290, 532)
for key, ys in zip(ORDER, [c_lstm, c_lstm_att, c_transformer, c_rnn_tf,
                           c_lstm_tf, c_ipilt]):
    curve(ax, c_x, ys, key)
simulated(ax, c_x, c_sim)
style_axes(ax, (0, 393), (210, 165), 50, 5, 47, 290, 532, 556)
title(372.6, 298, "(c) Simulated OHPL(Direction 3)")
column_legend(239.5, 476, [(k, NAME[k]) for k in ORDER[:4]])
column_legend(357, 476, [("lstm_tf", NAME["lstm_tf"]), ("ipilt", NAME["ipilt"]),
                         ("ref", "Simulated OHPL")])

# ---- (d) -------------------------------------------------------------------
ax = make_axes(50, 569, 816)
curve(ax, 1 + 2 * np.arange(len(d_lstm)), d_lstm, "lstm")
curve(ax, 1 + 2 * np.arange(len(d_lstm_att)), d_lstm_att, "lstm_att")
curve(ax, 1 + np.arange(len(d_transformer)), d_transformer, "transformer")
curve(ax, 1 + np.arange(len(d_rnn_tf)), d_rnn_tf, "rnn_tf")
curve(ax, 1 + np.arange(len(d_lstm_tf)), d_lstm_tf, "lstm_tf")
curve(ax, 1 + np.arange(len(d_ipilt)), d_ipilt, "ipilt")
measured(ax, 1 + np.arange(len(d_meas)), d_meas)
style_axes(ax, (0, 134.2), (220, 216.5), 20, 0.5, 50, 569, 816, 838, ylab_px=11)
title(58, 578, "(d) Measured OHPL(Set 1)")
column_legend(317.5, 585, [(k, NAME[k]) for k in ORDER[:4]])
column_legend(437, 585, [("lstm_tf", NAME["lstm_tf"]), ("ipilt", NAME["ipilt"]),
                         ("ref", "Measured OHPL")])

# ---- (e) -------------------------------------------------------------------
ax = make_axes(47, 854, 1096)
for key, ys in zip(ORDER, [e_lstm, e_lstm_att, e_transformer, e_rnn_tf,
                           e_lstm_tf, e_ipilt]):
    curve(ax, 1 + np.arange(len(ys)), ys, key)
measured(ax, 1 + np.arange(len(e_meas)), e_meas)
style_axes(ax, (0, 126.7), (224, 210), 20, 2, 47, 854, 1096, 1120)
title(62, 863, "(e) Measured OHPL(Set 2)")
column_legend(232, 865, [(k, NAME[k]) for k in ORDER[:3]])
column_legend(339, 865, [("rnn_tf", NAME["rnn_tf"]), ("lstm_tf", NAME["lstm_tf"]),
                         ("ipilt", NAME["ipilt"])])
column_legend(461, 865, [("ref", "Measured OHPL")])

# ---- (f) -------------------------------------------------------------------
ax = make_axes(55, 1133, 1375)
curve(ax, 4 * np.arange(len(f_lstm)), f_lstm, "lstm")
curve(ax, 1 + 2 * np.arange(len(f_lstm_att)), f_lstm_att, "lstm_att")
curve(ax, 1 + 2 * np.arange(len(f_transformer)), f_transformer, "transformer")
curve(ax, 1 + 2 * np.arange(len(f_rnn_tf)), f_rnn_tf, "rnn_tf")
curve(ax, 1 + 2 * np.arange(len(f_lstm_tf)), f_lstm_tf, "lstm_tf")
curve(ax, 1 + 2 * np.arange(len(f_ipilt)), f_ipilt, "ipilt")
measured(ax, 1 + 2 * np.arange(len(f_meas)), f_meas, lw=1.4)
style_axes(ax, (0, 307.8), (224, 221), 50, 0.5, 55, 1133, 1375, 1398)
title(62, 1142, "(f) Measured OHPL(Set 3)")
column_legend(312, 1147.7, [(k, NAME[k]) for k in ORDER[:4]])
column_legend(430, 1147.7, [("lstm_tf", NAME["lstm_tf"]), ("ipilt", NAME["ipilt"]),
                            ("ref", "Measured OHPL")])

fig.savefig("out.png", dpi=100)
